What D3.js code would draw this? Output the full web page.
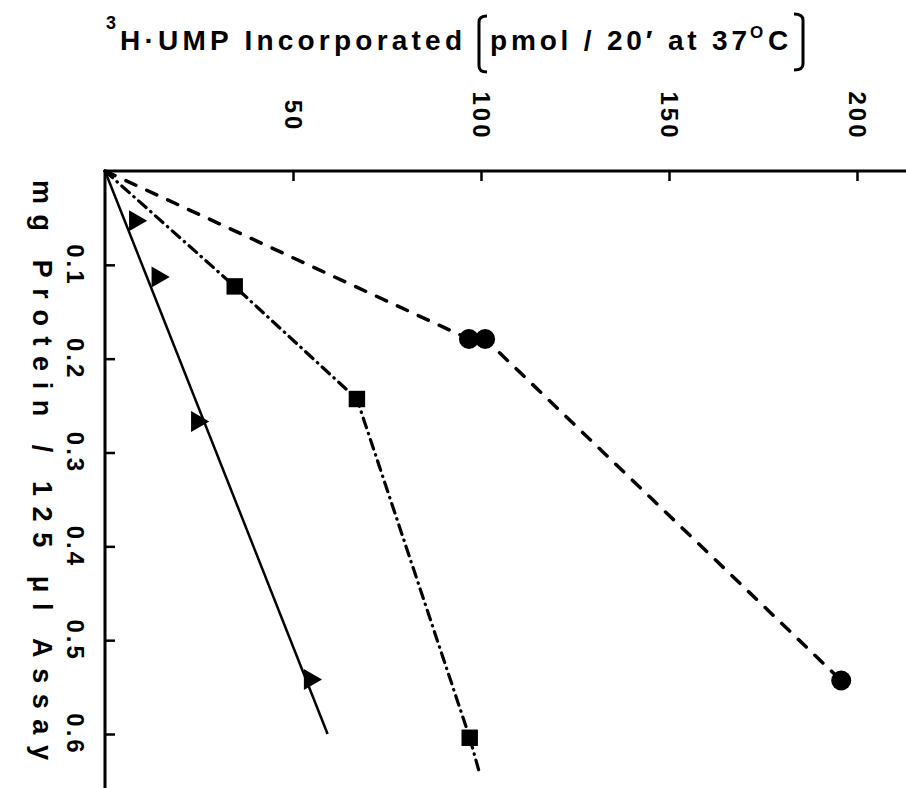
<!DOCTYPE html>
<html>
<head>
<meta charset="utf-8">
<style>
  body { margin: 0; background: #fff; }
  text { font-family: "Liberation Sans", Arial, sans-serif; font-weight: bold; fill: #000; }
</style>
</head>
<body>
<div id="chart"></div>

<script src="https://d3js.org/d3.v7.min.js"></script>
<script>

	var w = 906, h = 788;

	// tick values
	var umpTicks = [50, 100, 150, 200];
	var proteinTicks = [0.1, 0.2, 0.3, 0.4, 0.5, 0.6];

	// triangles (solid line)
	var triProtein = [0.053, 0.113, 0.267, 0.542];
	var triUmp = [8, 14, 24.5, 54.5];
	var triLineProtein = [0, 0.6];
	var triLineUmp = [0, 59.2];

	// squares (dash-dot line)
	var sqProtein = [0.123, 0.243, 0.604];
	var sqUmp = [34.5, 67, 97];
	var sqLineProtein = [0, 0.123, 0.243, 0.604, 0.64];
	var sqLineUmp = [0, 34.5, 67, 97, 99.5];

	// circles (dashed line)
	var circProtein = [0.179, 0.179, 0.543];
	var circUmp = [96.8, 101.1, 195.8];
	var circLineProtein = [0, 0.179, 0.179, 0.543];
	var circLineUmp = [0, 96.8, 101.1, 195.8];

	var svg = d3.select("#chart")
				.append("svg")
				.attr("width", w)
				.attr("height", h);

	// scales: ump runs across, protein runs down
	var x = d3.scaleLinear().domain([0, 200]).range([105, 857]),
		y = d3.scaleLinear().domain([0, 0.6]).range([171, 734]);

	// x axis along the top, ticks pointing down
	var xAxis = d3.axisTop(x).tickValues(umpTicks).tickSize(-10).tickFormat(d3.format("d"));
	var gx = svg.append("g")
		.attr("transform", "translate(0," + y(0) + ")")
		.call(xAxis);
	gx.select(".domain").remove();
	gx.selectAll(".tick line").attr("stroke", "#000").attr("stroke-width", 2.5);
	gx.selectAll(".tick text")
		.attr("x", 0).attr("y", 0).attr("dy", "0.35em")
		.attr("text-anchor", "middle")
		.attr("transform", "translate(0,-55) rotate(90)")
		.style("font-size", "24px")
		.style("letter-spacing", "3px");

	// y axis on the left, ticks pointing right
	var yAxis = d3.axisLeft(y).tickValues(proteinTicks).tickSize(-10).tickFormat(d3.format(".1f"));
	var gy = svg.append("g")
		.attr("transform", "translate(" + x(0) + ",0)")
		.call(yAxis);
	gy.select(".domain").remove();
	gy.selectAll(".tick line").attr("stroke", "#000").attr("stroke-width", 2.5);
	gy.selectAll(".tick text")
		.attr("x", 0).attr("y", 0).attr("dy", "0.35em")
		.attr("text-anchor", "middle")
		.attr("transform", "translate(-30,0) rotate(90)")
		.style("font-size", "24px")
		.style("letter-spacing", "3px");

	// axis lines run to the edges
	svg.append("line")
		.attr("x1", x(0) - 1).attr("y1", y(0))
		.attr("x2", w).attr("y2", y(0))
		.attr("stroke", "#000").attr("stroke-width", 3);
	svg.append("line")
		.attr("x1", x(0)).attr("y1", y(0))
		.attr("x2", x(0)).attr("y2", h)
		.attr("stroke", "#000").attr("stroke-width", 3);

	// lines
	function pairs(xs, ys) {
		return xs.map(function(v, i) { return [v, ys[i]]; });
	}
	var line = d3.line()
		.x(function(d) { return x(d[0]); })
		.y(function(d) { return y(d[1]); });

	svg.append("path")
		.attr("d", line(pairs(triLineUmp, triLineProtein)))
		.attr("fill", "none").attr("stroke", "#000").attr("stroke-width", 2.5);

	svg.append("path")
		.attr("d", line(pairs(sqLineUmp, sqLineProtein)))
		.attr("fill", "none").attr("stroke", "#000").attr("stroke-width", 3.2)
		.attr("stroke-linecap", "round")
		.attr("stroke-dasharray", "10,6,0.5,6");

	svg.append("path")
		.attr("d", line(pairs(circLineUmp, circLineProtein)))
		.attr("fill", "none").attr("stroke", "#000").attr("stroke-width", 3.5)
		.attr("stroke-linecap", "round")
		.attr("stroke-dasharray", "11,12");

	// markers
	svg.selectAll(".tri")
		.data(pairs(triUmp, triProtein))
		.enter()
		.append("path")
		.attr("class", "tri")
		.attr("d", d3.symbol().type(d3.symbolTriangle).size(190))
		.attr("transform", function(d) {
			return "translate(" + x(d[0]) + "," + y(d[1]) + ") rotate(90)";
		});

	svg.selectAll(".sq")
		.data(pairs(sqUmp, sqProtein))
		.enter()
		.append("path")
		.attr("class", "sq")
		.attr("d", d3.symbol().type(d3.symbolSquare).size(270))
		.attr("transform", function(d) {
			return "translate(" + x(d[0]) + "," + y(d[1]) + ")";
		});

	svg.selectAll(".circ")
		.data(pairs(circUmp, circProtein))
		.enter()
		.append("circle")
		.attr("class", "circ")
		.attr("cx", function(d) { return x(d[0]); })
		.attr("cy", function(d) { return y(d[1]); })
		.attr("r", 10);

	// title across the top
	svg.append("text")
		.attr("x", 106).attr("y", 29)
		.style("font-size", "18px")
		.text("3");
	svg.append("text")
		.attr("x", 120).attr("y", 50)
		.attr("textLength", 342).attr("lengthAdjust", "spacing")
		.style("font-size", "28px")
		.text("H\u00b7UMP  Incorporated");
	svg.append("text")
		.attr("x", 490).attr("y", 50)
		.attr("textLength", 257).attr("lengthAdjust", "spacing")
		.style("font-size", "28px")
		.text("pmol / 20\u2032 at 37");
	svg.append("text")
		.attr("x", 750).attr("y", 38)
		.style("font-size", "17px")
		.text("O");
	svg.append("text")
		.attr("x", 768).attr("y", 50)
		.style("font-size", "28px")
		.text("C");

	// brackets
	svg.append("path")
		.attr("d", "M487,16 Q479,16 479,22 L479,66 Q479,72 487,72")
		.attr("fill", "none").attr("stroke", "#000").attr("stroke-width", 3);
	svg.append("path")
		.attr("d", "M794,14 Q803,14 803,20 L803,64 Q803,70 794,70")
		.attr("fill", "none").attr("stroke", "#000").attr("stroke-width", 3);

	// y axis title
	svg.append("text")
		.attr("text-anchor", "middle")
		.attr("transform", "translate(42,470) rotate(90)")
		.attr("dy", "0.35em")
		.attr("textLength", 580).attr("lengthAdjust", "spacing")
		.style("font-size", "27px")
		.text("mg Protein / 125 \u03bcl Assay");

</script>
</body>
</html>
